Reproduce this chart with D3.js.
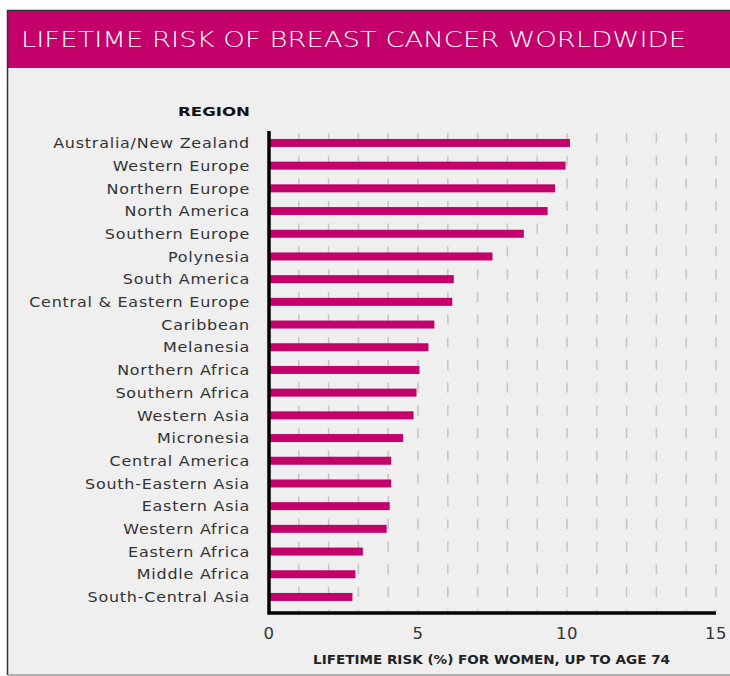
<!DOCTYPE html>
<html>
<head>
<meta charset="utf-8">
<script src="https://cdn.jsdelivr.net/npm/d3@7"></script>
<style>
  html, body { margin: 0; padding: 0; background: #fff; }
  svg { display: block; }
</style>
</head>
<body>
<svg id="chart"></svg>
<script>
// data
var regions = [
  "Australia/New Zealand", "Western Europe", "Northern Europe", "North America",
  "Southern Europe", "Polynesia", "South America", "Central & Eastern Europe",
  "Caribbean", "Melanesia", "Northern Africa", "Southern Africa", "Western Asia",
  "Micronesia", "Central America", "South-Eastern Asia", "Eastern Asia",
  "Western Africa", "Eastern Africa", "Middle Africa", "South-Central Asia"
];
var risk = [
  10.1, 9.95, 9.6, 9.35, 8.55, 7.5, 6.2, 6.15,
  5.55, 5.35, 5.05, 4.95, 4.85, 4.5, 4.1, 4.1, 4.05,
  3.95, 3.15, 2.9, 2.8
];
var tickValues = [0, 5, 10, 15];
var gridValues = d3.range(1, 16);

var title = "LIFETIME RISK OF BREAST CANCER WORLDWIDE";
var xTitle = "LIFETIME RISK (%) FOR WOMEN, UP TO AGE 74";

var width = 730, height = 676;
var magenta = "#c4006a";

var svg = d3.select("#chart")
    .attr("width", width)
    .attr("height", height);

// panel + frame
svg.append("rect")
    .attr("x", 8).attr("y", 10)
    .attr("width", width - 8).attr("height", 665)
    .attr("fill", "#efefef");

svg.append("rect")
    .attr("x", 8).attr("y", 10)
    .attr("width", width - 8).attr("height", 58)
    .attr("fill", magenta);

svg.append("path")
    .attr("d", "M730,10.5H7.5V675")
    .attr("fill", "none")
    .attr("stroke", "#333")
    .attr("stroke-width", 1.5);
svg.append("line")
    .attr("x1", 8).attr("x2", width)
    .attr("y1", 675).attr("y2", 675)
    .attr("stroke", "#999")
    .attr("stroke-width", 1.5);

svg.append("text")
    .attr("x", 21).attr("y", 47)
    .attr("fill", "#fff")
    .attr("font-family", "DejaVu Sans, sans-serif")
    .attr("font-size", 20.5)
    .attr("font-weight", 300)
    .attr("textLength", 665)
    .attr("lengthAdjust", "spacingAndGlyphs")
    .text(title);

// scales
var x = d3.scaleLinear().domain([0, 15]).range([269, 716]);
var y = d3.scaleBand().domain(regions).range([131.6, 608.3]);

var g = svg.append("g")
    .attr("font-family", "DejaVu Sans, sans-serif");

// dashed grid
g.append("g")
    .selectAll("line")
    .data(gridValues)
    .join("line")
      .attr("x1", d => x(d)).attr("x2", d => x(d))
      .attr("y1", 133).attr("y2", 611)
      .attr("stroke", "#c4c4c4")
      .attr("stroke-width", 1.5)
      .attr("stroke-dasharray", "10,12.7");

// bars
g.append("g")
    .selectAll("rect")
    .data(regions)
    .join("rect")
      .attr("x", x(0))
      .attr("y", d => y(d) + y.bandwidth() / 2 - 4)
      .attr("width", (d, i) => x(risk[i]) - x(0))
      .attr("height", 8)
      .attr("fill", magenta);

// axes lines
g.append("path")
    .attr("d", `M${x(0)},131V${613}H${x(15)}`)
    .attr("fill", "none")
    .attr("stroke", "#000")
    .attr("stroke-width", 3.5);

// category labels (stretched a bit to mimic the wide original face)
g.append("g")
    .attr("transform", "translate(250,0) scale(1.1,1)")
    .selectAll("text")
    .data(regions)
    .join("text")
      .attr("x", 0)
      .attr("y", d => y(d) + y.bandwidth() / 2)
      .attr("dy", "0.36em")
      .attr("text-anchor", "end")
      .attr("font-size", 14.5)
      .attr("letter-spacing", 0.7)
      .attr("fill", "#333")
      .text(d => d);

g.append("text")
    .attr("x", 178).attr("y", 116)
    .attr("font-size", 12.5)
    .attr("font-weight", "bold")
    .attr("fill", "#111")
    .attr("textLength", 72)
    .attr("lengthAdjust", "spacingAndGlyphs")
    .text("REGION");

// x tick labels
g.append("g")
    .selectAll("text")
    .data(tickValues)
    .join("text")
      .attr("x", d => x(d))
      .attr("y", 639)
      .attr("text-anchor", "middle")
      .attr("font-size", 16.5)
      .attr("letter-spacing", 0.5)
      .attr("fill", "#333")
      .text(d => d);

g.append("text")
    .attr("x", 313).attr("y", 664)
    .attr("font-size", 11.5)
    .attr("font-weight", "bold")
    .attr("fill", "#222")
    .attr("textLength", 357)
    .attr("lengthAdjust", "spacingAndGlyphs")
    .text(xTitle);
</script>
</body>
</html>
